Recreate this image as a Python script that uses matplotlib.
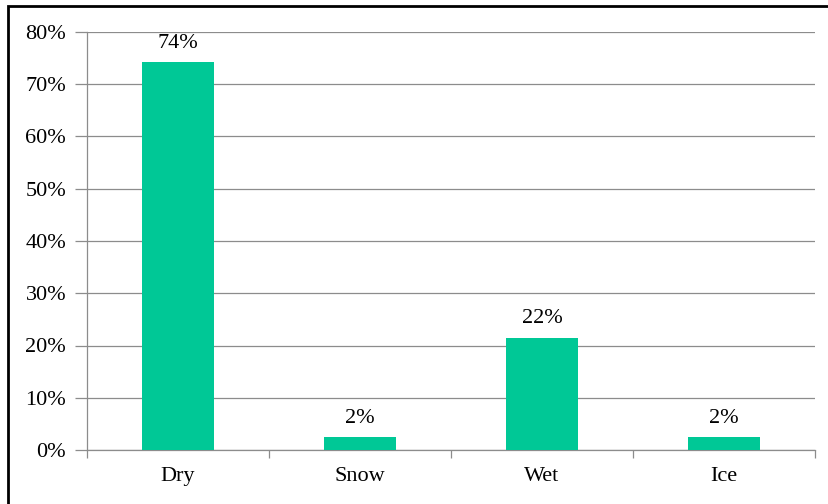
import numpy as np
import matplotlib.pyplot as plt
from matplotlib.patches import Rectangle
from matplotlib.ticker import FuncFormatter, FixedLocator

conditions = ['Dry', 'Snow', 'Wet', 'Ice']
share = [74.2, 2.4, 21.5, 2.4]  # percent of crashes by road surface
yticks = np.arange(0, 81, 10)

plt.rcParams['font.family'] = ['Liberation Serif', 'DejaVu Serif']
plt.rcParams['font.size'] = 16

fig = plt.figure(figsize=(8.29, 5.04), dpi=100)
ax = fig.add_axes([87/829, 54/504, (815-87)/829, (450-32)/504])

x = np.arange(len(conditions))
bars = ax.bar(x, share, width=0.4, color='#00C896', zorder=3)
for b, v in zip(bars, share):
    ax.text(b.get_x() + b.get_width()/2, v + 1.8, f'{v:.0f}%',
            ha='center', va='bottom')

ax.set_xlim(-0.5, len(conditions) - 0.5)
ax.set_ylim(0, 80)
ax.set_yticks(yticks)
ax.yaxis.set_major_formatter(FuncFormatter(lambda v, p: f'{v:.0f}%'))
ax.grid(axis='y', color='#8c8c8c', linewidth=0.9, zorder=0)

# category labels centred, tick marks on the category boundaries
ax.set_xticks(x)
ax.set_xticklabels(conditions)
ax.tick_params(axis='x', which='major', length=0, pad=12)
ax.xaxis.set_minor_locator(FixedLocator(np.arange(-0.5, len(conditions), 1)))
ax.tick_params(axis='x', which='minor', length=6, color='#8c8c8c', width=0.9)
ax.tick_params(axis='y', length=9, color='#8c8c8c', width=0.9, pad=6)

for side in ['top', 'right']:
    ax.spines[side].set_visible(False)
for side in ['left', 'bottom']:
    ax.spines[side].set_color('#8c8c8c')
    ax.spines[side].set_linewidth(0.9)

# frame around the chart area (runs off the right and bottom edges)
fig.patches.append(Rectangle((8/829, -0.05), 1.1, 1 - 6/504 + 0.05,
                             transform=fig.transFigure, fill=False,
                             edgecolor='black', linewidth=2))

fig.savefig('out.png', dpi=100)
